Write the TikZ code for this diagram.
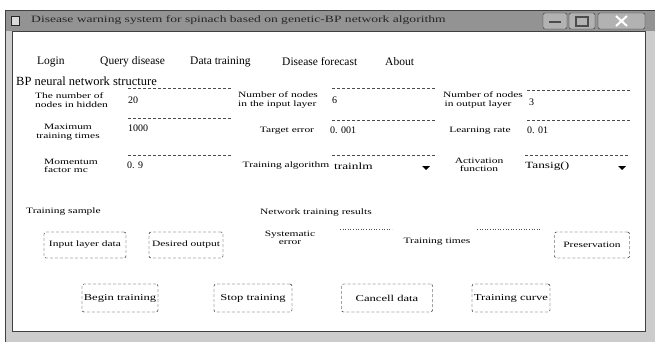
\documentclass[tikz,border=0pt]{standalone}
\usepackage{fontspec}
\setmainfont{Liberation Serif}
\newfontfamily\wideserif[FakeStretch=1.4]{Liberation Serif}
\usepackage{xcolor}
\usepackage{tikz}
\usetikzlibrary{positioning}

\begin{document}
\begin{tikzpicture}[x=1pt, y=-1pt,
	menu/.style={font=\fontsize{11.5}{13}\selectfont, anchor=west, inner sep=0pt},
	lbl/.style={font=\wideserif\fontsize{8.2}{8.5}\selectfont, align=center, inner sep=0pt},
	lbll/.style={lbl, align=left, anchor=west},
	val/.style={font=\fontsize{10}{11}\selectfont, anchor=west, inner sep=0pt},
	field/.style={line width=0.6pt, densely dashed, gray!60!black},
	btn/.style={draw, densely dashed, rounded corners=2pt, inner sep=1pt, font=\wideserif\fontsize{8.2}{9}\selectfont, minimum height=26pt},
	bigbtn/.style={btn, minimum height=28pt, font=\wideserif\fontsize{9}{10}\selectfont},
	ctrl/.style={draw=gray!40!black, fill=gray!60, rounded corners=2pt}]
	\useasboundingbox (0,0) rectangle (655,342);
	% window frame and title bar
	\fill[gray!40] (5,10) rectangle (655,342);
	\fill[gray!85] (5,10) rectangle (655,31);
	\fill[white] (12,31) rectangle (645,331);
	\draw[gray!50!black] (12,31) rectangle (645,331);
	\draw[gray!50!black] (5,10) rectangle (655,342);
	\fill[gray!30] (11,16) rectangle (19,25);
	\draw[gray!30!black] (11,16) rectangle (19,25);
	\node[anchor=west, inner sep=0pt, font=\wideserif\fontsize{9.7}{11}\selectfont, text=black!85] (title) at (31,20) {Disease warning system for spinach based on genetic-BP network algorithm};
	\draw[ctrl] (543,13) rectangle (567,29);
	\draw[ctrl] (569,13) rectangle (595,29);
	\draw[ctrl] (598,13) rectangle (645,29);
	\draw[line width=2pt, black!70] (549,22) -- (561,22);
	\draw[line width=1.2pt, black!70] (576,17) rectangle (588,26);
	\draw[line width=2pt, white] (616,16) -- (627,26) (616,26) -- (627,16);
	% menu
	\node[menu] (login) at (37,62) {Login};
	\node[menu] (query) at (100,62) {Query disease};
	\node[menu] (dtrain) at (190,62) {Data training};
	\node[menu] (forecast) at (282,62) {Disease forecast};
	\node[menu] (about) at (385,62) {About};
	% network structure
	\node[menu, font=\fontsize{12.5}{14}\selectfont] (heading) at (16,81) {BP neural network structure};
	\foreach \x/\y in {128/88, 332/88, 527/90, 128/118, 332/120, 527/120, 128/155, 332/155, 525/155}
		\draw[field] (\x,\y) -- +(103,0);
	\node[lbll] (hidden) at (35,100) {The number of\\nodes in hidden};
	\node[val] (hiddenv) at (128,100) {20};
	\node[lbll] (inlayer) at (238,100) {Number of nodes\\in the input layer};
	\node[val] (inlayerv) at (332,100) {6};
	\node[lbll] (outlayer) at (443,100) {Number of nodes\\ \,in output layer};
	\node[val] (outlayerv) at (529,102) {3};
	\node[lbl] (maxtimes) at (68,132) {Maximum\\training times};
	\node[val] (maxtimesv) at (128,128) {1000};
	\node[lbl] (target) at (287,131) {Target error};
	\node[val] (targetv) at (330,130) {0. 001};
	\node[lbl] (rate) at (480,131) {Learning rate};
	\node[val] (ratev) at (527,130) {0. 01};
	\node[lbll] (momentum) at (44,166) {Momentum\\factor mc};
	\node[val] (momentumv) at (127,165) {0. 9};
	\node[lbl] (algo) at (286,166) {Training algorithm};
	\node[val, font=\wideserif\fontsize{9.5}{11}\selectfont] (algov) at (334,166) {trainlm};
	\node[lbl] (activ) at (479,165) {Activation\\function};
	\node[val, font=\wideserif\fontsize{9.5}{11}\selectfont] (activv) at (525,166) {Tansig()};
	\fill (422,166) -- +(8,0) -- +(4,4) -- cycle;
	\fill (618,166) -- +(8,0) -- +(4,4) -- cycle;
	% training sample and results
	\node[lbll] (sample) at (26,212) {Training sample};
	\node[lbll] (results) at (260,213) {Network training results};
	\node[btn, minimum width=82pt] (inputdata) at (85,245) {Input layer data};
	\node[btn, minimum width=74pt] (desired) at (186,245) {Desired output};
	\node[lbl] (syserr) at (290,238) {Systematic\\error};
	\draw[field, dotted] (340,229) -- (392,229);
	\node[lbl] (ttimes) at (437,242) {Training times};
	\draw[field, dotted] (477,229) -- (542,229);
	\node[btn, minimum width=75pt] (save) at (592,245) {Preservation};
	% bottom buttons
	\node[bigbtn, minimum width=76pt] (begin) at (120,298) {Begin training};
	\node[bigbtn, minimum width=78pt] (stop) at (253,298) {Stop training};
	\node[bigbtn, minimum width=91pt] (cancel) at (387,298) {Cancell data};
	\node[bigbtn, minimum width=78pt] (curve) at (511,298) {Training curve};
\end{tikzpicture}
\end{document}
